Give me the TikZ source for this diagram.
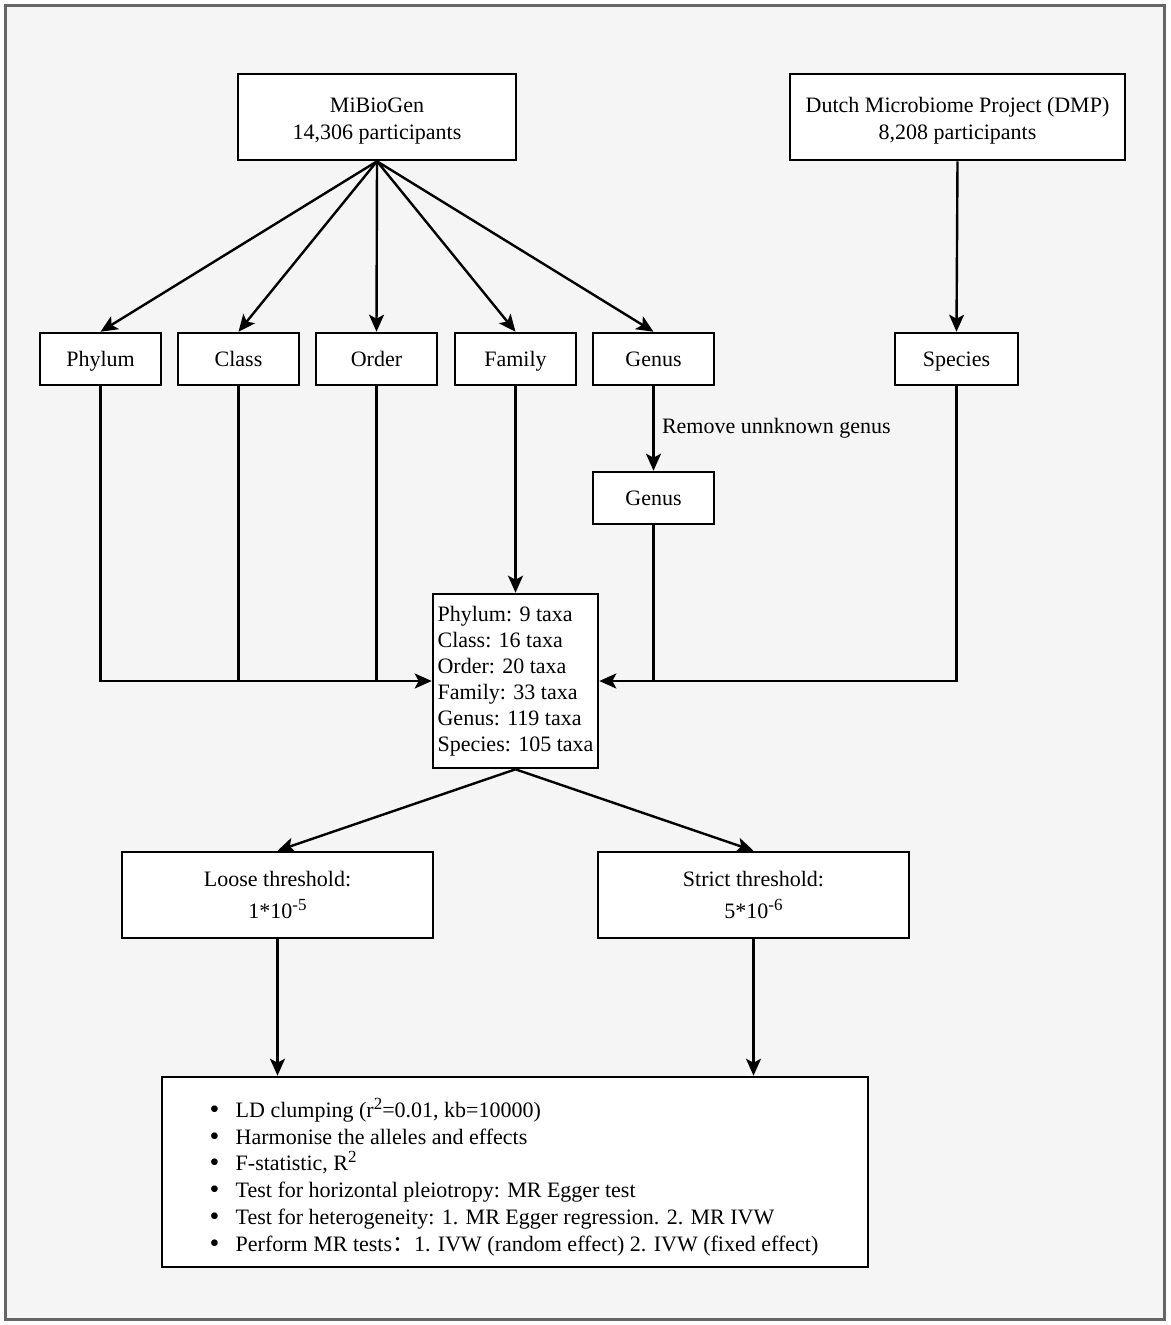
\documentclass[tikz,border=0pt]{standalone}
\usepackage{fontspec}
\setmainfont{Liberation Serif}
\newfontfamily\cjk{Noto Sans CJK SC}
\usetikzlibrary{arrows.meta}
\newcommand{\supx}[1]{\raisebox{8pt}{\fontsize{17}{17}\selectfont #1}}
\newcommand{\bul}{\makebox[26pt][l]{\smash{\raisebox{-1pt}{\fontsize{28}{10}\selectfont\textbullet}}}}
\begin{document}
\begin{tikzpicture}[x=1pt,y=-1pt,
  box/.style={draw=black,line width=2.6pt,fill=white,inner sep=0pt,font=\fontsize{22}{27}\selectfont,align=center},
  small/.style={box,minimum width=121pt,minimum height=52pt,text height=17pt,text depth=2pt},
  conn/.style={line width=2.4pt,-{Stealth[length=17pt,width=15pt,inset=4pt]}},
  plain/.style={line width=2.4pt}]
\useasboundingbox (0,0) rectangle (1170,1325);
\fill[white] (0,0) rectangle (1170,1325);
\draw[line width=3pt,draw=black!60,fill=black!4] (5.5,5.5) rectangle (1164.5,1319.5);

\node[box,minimum width=278pt,minimum height=86pt] (mib) at (377,117) {\rule{0pt}{22pt}MiBioGen\\14,306 participants};
\node[box,minimum width=335pt,minimum height=86pt] (dmp) at (957.5,117) {\rule{0pt}{22pt}Dutch Microbiome Project (DMP)\\8,208 participants};

\node[small] (phy) at (100.5,359) {Phylum};
\node[small] (cla) at (238.5,359) {Class};
\node[small] (ord) at (376.5,359) {Order};
\node[small] (fam) at (515.5,359) {Family};
\node[small] (gen) at (653.5,359) {Genus};
\node[small,minimum width=123pt] (spe) at (956.5,359) {Species};
\node[small] (gen2) at (653.5,498) {Genus};

\node[box,minimum width=165pt,minimum height=174pt,align=left,font=\fontsize{22}{26}\selectfont] (tax) at (515.5,681)
 {Phylum: 9 taxa\\Class: 16 taxa\\Order: 20 taxa\\Family: 33 taxa\\Genus: 119 taxa\\Species: 105 taxa};

\node[box,minimum width=311pt,minimum height=86pt,font=\fontsize{22}{32}\selectfont] (loose) at (277.5,895) {Loose threshold:\\1*10\supx{-5}};
\node[box,minimum width=311pt,minimum height=86pt,font=\fontsize{22}{32}\selectfont] (strict) at (753.5,895) {Strict threshold:\\5*10\supx{-6}};

\node[box,minimum width=706pt,minimum height=190pt] (mr) at (515,1172) {};
\node[align=left,inner sep=0pt,font=\fontsize{22}{26.8}\selectfont] (mrtext) at (514,1177)
 {\bul LD clumping (r\supx{2}=0.01, kb=10000)\\
  \bul Harmonise the alleles and effects\\
  \bul F-statistic, R\supx{2}\\
  \bul Test for horizontal pleiotropy: MR Egger test\\
  \bul Test for heterogeneity: 1. MR Egger regression. 2. MR IVW\\
  \bul Perform MR tests{\cjk ：}1. IVW (random effect) 2. IVW (fixed effect)};

\draw[conn] (mib.south) -- (phy.north);
\draw[conn] (mib.south) -- (cla.north);
\draw[conn] (mib.south) -- (ord.north);
\draw[conn] (mib.south) -- (fam.north);
\draw[conn] (mib.south) -- (gen.north);
\draw[conn] (dmp.south) -- (spe.north);

\draw[conn] (gen.south) -- node[right,font=\fontsize{22}{26}\selectfont,xshift=4pt] {Remove unnknown genus} (gen2.north);
\draw[conn] (fam.south) -- (tax.north);

\draw[conn] (phy.south) |- (tax.west);
\draw[plain] (cla.south) -- (cla.south |- tax.west);
\draw[plain] (ord.south) -- (ord.south |- tax.west);
\draw[conn] (spe.south) |- (tax.east);
\draw[plain] (gen2.south) -- (gen2.south |- tax.east);

\draw[conn] (tax.south) -- (loose.north);
\draw[conn] (tax.south) -- (strict.north);
\draw[conn] (loose.south) -- (loose.south |- mr.north);
\draw[conn] (strict.south) -- (strict.south |- mr.north);
\end{tikzpicture}
\end{document}
